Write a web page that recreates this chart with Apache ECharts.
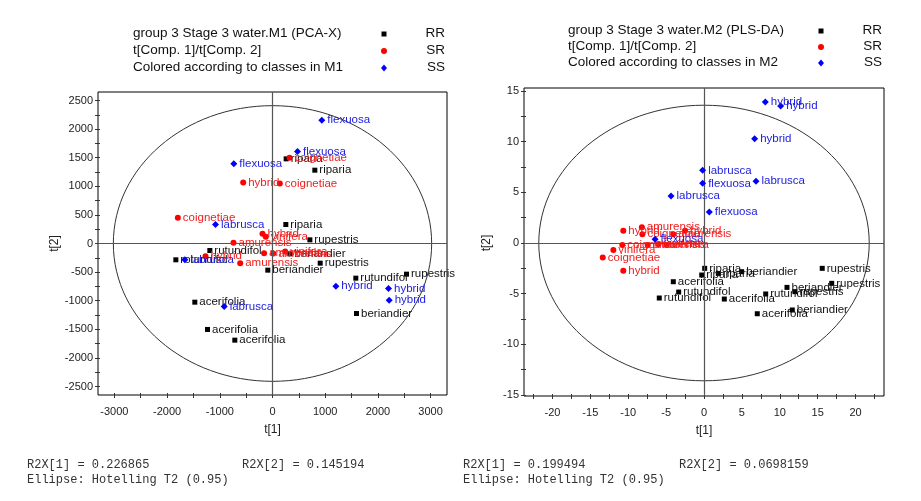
<!DOCTYPE html>
<html><head><meta charset="utf-8">
<script src="https://cdn.jsdelivr.net/npm/echarts@6/dist/echarts.min.js"></script>
<style>html,body{margin:0;padding:0;background:#fff}#c{width:921px;height:501px}</style>
</head><body><div id="c"></div>
<script>
// ---------- DATA: model M1 (PCA-X), t[1] / t[2] ----------
const m1RR = [[259,1480,'riparia'],[803,1282,'riparia'],[253,332,'riparia'],[709,64,'rupestris'],
  [-1189,-122,'rutundifol'],[329,-181,'beriandier'],[-1834,-285,'rotundifol'],[905,-344,'rupestris'],
  [-89,-466,'beriandier'],[1581,-606,'rutundifol'],[2543,-536,'rupestris'],[1594,-1224,'beriandier'],
  [-1474,-1026,'acerifolia'],[-1233,-1503,'acerifolia'],[-715,-1690,'acerifolia']];
const m1SR = [[323,1498,'coignetiae'],[-556,1066,'hybrid'],[139,1049,'coignetiae'],[-1796,449,'coignetiae'],
  [-190,169,'hybrid'],[-127,117,'vinifera'],[-740,12,'amurensis'],[-160,-170,'amurensis'],
  [13,-175,'amurensis'],[241,-140,'vinifera'],[-1271,-222,'hybrid'],[-613,-344,'amurensis']];
const m1SS = [[936,2156,'flexuosa'],[474,1608,'flexuosa'],[-734,1393,'flexuosa'],[-1082,332,'labrusca'],
  [-1663,-285,'labrusca'],[1202,-746,'hybrid'],[2201,-787,'hybrid'],[2214,-991,'hybrid'],[-917,-1101,'labrusca']];
const m1Ellipse = [3020, 2410];           // Hotelling T2 (0.95) semi-axes
const m1XTicks = [-3000, 3000, 500];      // min, max, step
const m1YTicks = [-2500, 2500, 250];

// ---------- DATA: model M2 (PLS-DA) ----------
const m2RR = [[0.09,-2.5,'riparia'],[-0.3,-3.16,'riparia'],[1.89,-3.0,'riparia'],[4.97,-2.83,'beriandier'],
  [15.6,-2.5,'rupestris'],[16.85,-3.98,'rupestris'],[10.95,-4.38,'beriandier'],[12.0,-4.8,'rupestris'],
  [8.14,-5.03,'rutundifol'],[-4.05,-3.82,'acerifolia'],[-3.34,-4.84,'rutundifol'],[-5.9,-5.43,'rutundifol'],
  [2.68,-5.53,'acerifolia'],[7.03,-6.98,'acerifolia'],[11.65,-6.61,'beriandier']];
const m2SR = [[-10.65,1.21,'hybrid'],[-8.2,1.55,'amurensis'],[-8.13,0.86,'coignetiae'],[-2.5,1.21,'hybrid'],
  [-4.05,0.86,'amurensis'],[-10.78,-0.2,'coignetiae'],[-7.43,-0.2,'amurensis'],[-4.92,-0.2,'vinifera'],
  [-11.96,-0.69,'vinifera'],[-13.36,-1.42,'coignetiae'],[-10.65,-2.73,'hybrid'],[-6.0,-0.1,'vinifera']];
const m2SS = [[8.09,13.92,'hybrid'],[10.12,13.52,'hybrid'],[6.68,10.30,'hybrid'],[-0.18,7.17,'labrusca'],
  [-0.18,5.89,'flexuosa'],[6.86,6.09,'labrusca'],[-4.35,4.64,'labrusca'],[0.70,3.06,'flexuosa'],[-6.46,0.37,'flexuosa']];
const m2Ellipse = [21.8, 13.6];
const m2XTicks = [-22.5, 22.5, 2.5];
const m2YTicks = [-15, 15, 2.5];

const classNames = ['RR', 'SR', 'SS'];
const classColors = ['#000000', '#ff0000', '#0000ff'];
const labelColors = ['#111111', '#f02020', '#2020e0'];
const classSymbols = ['rect', 'circle', 'diamond'];
const classSizes = [5, 6, 7];

// ---------- layout ----------
const plots = [
  { frame: {left: 98, top: 92, width: 349, height: 303}, xr: [-3311, 3311], yr: [-2649, 2649],
    xt: m1XTicks, yt: m1YTicks, xLabelStep: 1000, yLabelStep: 500, ell: m1Ellipse, sets: [m1RR, m1SR, m1SS], yNameGap: 39 },
  { frame: {left: 524, top: 88, width: 360, height: 308}, xr: [-23.75, 23.75], yr: [-15.1, 15.3],
    xt: m2XTicks, yt: m2YTicks, xLabelStep: 5, yLabelStep: 5, ell: m2Ellipse, sets: [m2RR, m2SR, m2SS], yNameGap: 33 }
];

const grid = [], xAxis = [], yAxis = [], series = [];
const FONT = 'Arial, "Liberation Sans", sans-serif';
const isMult = (v, s) => Math.abs(v / s - Math.round(v / s)) < 1e-6;

plots.forEach((p, i) => {
  const f = p.frame;
  const tl = f.left + (p.xt[0] - p.xr[0]) / (p.xr[1] - p.xr[0]) * f.width;
  const tw = (p.xt[1] - p.xt[0]) / (p.xr[1] - p.xr[0]) * f.width;
  const tt = f.top + (p.yr[1] - p.yt[1]) / (p.yr[1] - p.yr[0]) * f.height;
  const th = (p.yt[1] - p.yt[0]) / (p.yr[1] - p.yr[0]) * f.height;
  const gData = grid.length;
  grid.push({ left: f.left, top: f.top, width: f.width, height: f.height, show: true,
    borderColor: '#000', borderWidth: 1, backgroundColor: 'transparent' });
  const gTick = grid.length;
  grid.push({ left: tl, top: tt, width: tw, height: th, show: false });
  const xData = xAxis.length;
  xAxis.push({ gridIndex: gData, type: 'value', min: p.xr[0], max: p.xr[1], show: false });
  xAxis.push({ gridIndex: gTick, type: 'value', min: p.xt[0], max: p.xt[1], interval: p.xt[2],
    position: 'bottom', offset: (f.top + f.height) - (tt + th) - 2,
    axisLine: {show: false, onZero: false}, splitLine: {show: false},
    axisTick: {show: true, length: 5, lineStyle: {color: '#333'}},
    axisLabel: {margin: 13, color: '#222', fontSize: 11, fontFamily: FONT,
      formatter: v => isMult(v, p.xLabelStep) ? String(Math.round(v)) : ''},
    name: 't[1]', nameLocation: 'middle', nameGap: 31,
    nameTextStyle: {color: '#222', fontSize: 12, fontFamily: FONT} });
  yAxis.push({ gridIndex: gData, type: 'value', min: p.yr[0], max: p.yr[1], show: false });
  yAxis.push({ gridIndex: gTick, type: 'value', min: p.yt[0], max: p.yt[1], interval: p.yt[2],
    position: 'left', offset: tl - f.left - 2,
    axisLine: {show: false, onZero: false}, splitLine: {show: false},
    axisTick: {show: true, length: 5, lineStyle: {color: '#333'}},
    axisLabel: {margin: 7, color: '#222', fontSize: 11, fontFamily: FONT,
      formatter: v => isMult(v, p.yLabelStep) ? String(Math.round(v)) : ''},
    name: 't[2]', nameLocation: 'middle', nameGap: p.yNameGap, nameRotate: 90,
    nameTextStyle: {color: '#222', fontSize: 12, fontFamily: FONT} });

  // ellipse + zero lines
  series.push({ type: 'custom', xAxisIndex: xData, yAxisIndex: xData, silent: true, clip: false, z: 1,
    data: [[0, 0]],
    renderItem: (params, api) => {
      const c = api.coord([0, 0]);
      const s = api.size([p.ell[0], p.ell[1]]);
      return { type: 'ellipse', shape: {cx: c[0], cy: c[1], rx: s[0], ry: s[1]},
        style: {fill: 'none', stroke: '#333', lineWidth: 1} };
    },
    markLine: { silent: true, symbol: 'none', label: {show: false},
      lineStyle: {color: '#555', type: 'solid', width: 1.2},
      data: [{xAxis: 0}, {yAxis: 0}] }
  });
  p.sets.forEach((d, k) => {
    series.push({ type: 'scatter', name: classNames[k], xAxisIndex: xData, yAxisIndex: xData, z: 3 + k,
      symbol: classSymbols[k], symbolSize: classSizes[k], itemStyle: {color: classColors[k], opacity: 1},
      data: d.map(r => [r[0], r[1], r[2]]),
      label: {show: true, position: 'right', distance: 2, color: labelColors[k],
        fontSize: 11.5, fontFamily: FONT, formatter: q => q.data[2]} });
  });
});

// header texts
const headers = [
  {x: 133, y: [34, 51, 68], mx: 384, lx: 445,
   lines: ['group 3 Stage 3 water.M1 (PCA-X)', 't[Comp. 1]/t[Comp. 2]', 'Colored according to classes in M1']},
  {x: 568, y: [31, 47, 63], mx: 821, lx: 882,
   lines: ['group 3 Stage 3 water.M2 (PLS-DA)', 't[Comp. 1]/t[Comp. 2]', 'Colored according to classes in M2']}
];
const graphic = [];
headers.forEach(h => {
  h.lines.forEach((t, j) => {
    graphic.push({type: 'text', left: h.x, top: h.y[j] - 8, style: {text: t, fill: '#111', font: '13.5px ' + FONT}});
    graphic.push({type: 'text', right: 921 - h.lx, top: h.y[j] - 8, style: {text: classNames[j], fill: '#111', font: '13.5px ' + FONT}});
  });
  graphic.push({type: 'rect', shape: {x: h.mx - 2.5, y: h.y[0] - 2.5, width: 5, height: 5}, style: {fill: classColors[0]}});
  graphic.push({type: 'circle', shape: {cx: h.mx, cy: h.y[1], r: 3}, style: {fill: classColors[1]}});
  graphic.push({type: 'polygon', shape: {points: [[h.mx, h.y[2] - 3.5], [h.mx + 3, h.y[2]], [h.mx, h.y[2] + 3.5], [h.mx - 3, h.y[2]]]}, style: {fill: classColors[2]}});
});
// footer statistics
const footers = [
  {x1: 27, x2: 242, a: 'R2X[1] = 0.226865', b: 'R2X[2] = 0.145194'},
  {x1: 463, x2: 679, a: 'R2X[1] = 0.199494', b: 'R2X[2] = 0.0698159'}
];
const MONO = '12px "Courier New", "Liberation Mono", monospace';
footers.forEach(f => {
  graphic.push({type: 'text', left: f.x1, top: 459, style: {text: f.a, fill: '#333', font: MONO}});
  graphic.push({type: 'text', left: f.x2, top: 459, style: {text: f.b, fill: '#333', font: MONO}});
  graphic.push({type: 'text', left: f.x1, top: 474, style: {text: 'Ellipse: Hotelling T2 (0.95)', fill: '#333', font: MONO}});
});

const chart = echarts.init(document.getElementById('c'), null, {renderer: 'canvas'});
chart.setOption({ animation: false, backgroundColor: '#fff', grid, xAxis, yAxis, series, graphic });
</script></body></html>
